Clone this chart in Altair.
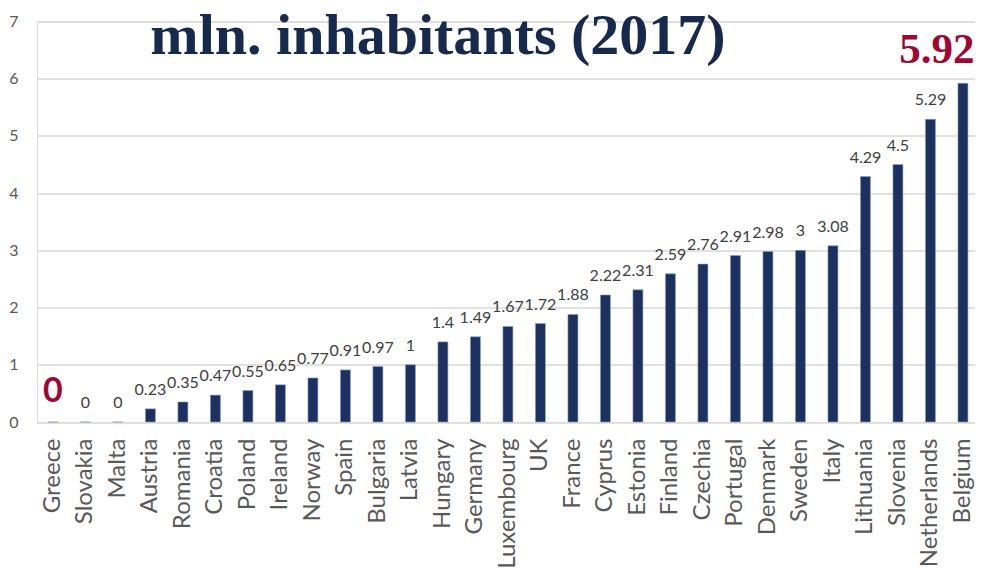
import altair as alt
import pandas as pd

countries = ["Greece", "Slovakia", "Malta", "Austria", "Romania", "Croatia", "Poland",
             "Ireland", "Norway", "Spain", "Bulgaria", "Latvia", "Hungary", "Germany",
             "Luxembourg", "UK", "France", "Cyprus", "Estonia", "Finland", "Czechia",
             "Portugal", "Denmark", "Sweden", "Italy", "Lithuania", "Slovenia",
             "Netherlands", "Belgium"]
values = [0, 0, 0, 0.23, 0.35, 0.47, 0.55, 0.65, 0.77, 0.91, 0.97, 1, 1.4, 1.49,
          1.67, 1.72, 1.88, 2.22, 2.31, 2.59, 2.76, 2.91, 2.98, 3, 3.08, 4.29, 4.5,
          5.29, 5.92]
highlight = ["Greece", "Belgium"]
y_ticks = [0, 1, 2, 3, 4, 5, 6, 7]
title_text = ["mln. inhabitants (2017)"]

df = pd.DataFrame({"country": countries, "value": values})
df["label"] = [("%g" % v) for v in values]
df["hl"] = [c in highlight for c in countries]

NAVY = "#1C3160"
RED = "#A10532"

x_enc = alt.X("country:N", sort=countries,
              scale=alt.Scale(range=[-0.35, 942.2], paddingInner=0.7, paddingOuter=0.35,
                              round=False),
              axis=alt.Axis(title=None, labelAngle=-90, labelFont="Lato", labelFontSize=24,
                            labelColor="#595959", ticks=False, domain=False,
                            labelPadding=16))
y_enc = alt.Y("value:Q", scale=alt.Scale(domain=[0, 7], nice=False),
              axis=alt.Axis(title=None, values=y_ticks, format="d", ticks=False,
                            domain=False, labelFont="Lato", labelFontSize=16,
                            labelColor="#595959", labelPadding=19,
                            gridColor="#D9D9D9", gridWidth=1.5))

base = alt.Chart(df)

bars = base.mark_bar(color=NAVY, stroke="#8EA0C4", strokeWidth=0.6, width=10).encode(
    x=x_enc, y=y_enc)

labels = base.transform_filter("!datum.hl").mark_text(
    font="Lato", fontSize=16, color="#404040", baseline="alphabetic", dy=-14
).encode(x=alt.X("country:N", sort=countries), y="value:Q", text="label:N")

greece = base.transform_filter("datum.country == 'Greece'").mark_text(
    font="Lato", fontWeight="bold", fontSize=34, color=RED, baseline="alphabetic", dy=-20
).encode(x=alt.X("country:N", sort=countries), y="value:Q", text="label:N")

belgium = base.transform_filter("datum.country == 'Belgium'").mark_text(
    font="Liberation Serif", fontWeight="bold", fontSize=43, color=RED,
    baseline="alphabetic", dy=-20, dx=-26
).encode(x=alt.X("country:N", sort=countries), y="value:Q", text="label:N")

title = alt.Chart(pd.DataFrame({"t": title_text})).mark_text(
    font="Liberation Serif", fontWeight="bold", fontSize=58, color="#172A4E",
    align="center", baseline="alphabetic"
).encode(x=alt.value(401), y=alt.value(32), text="t:N")

chart = alt.layer(bars, labels, greece, belgium, title).properties(
    width=938, height=400.5,
    autosize=alt.AutoSizeParams(type="none"),
    padding={"left": 29, "top": 13.5, "right": 0, "bottom": 155},
).configure_view(stroke=None).configure(background="white")

chart.save("out.html", embed_options={"renderer": "svg", "actions": False})
